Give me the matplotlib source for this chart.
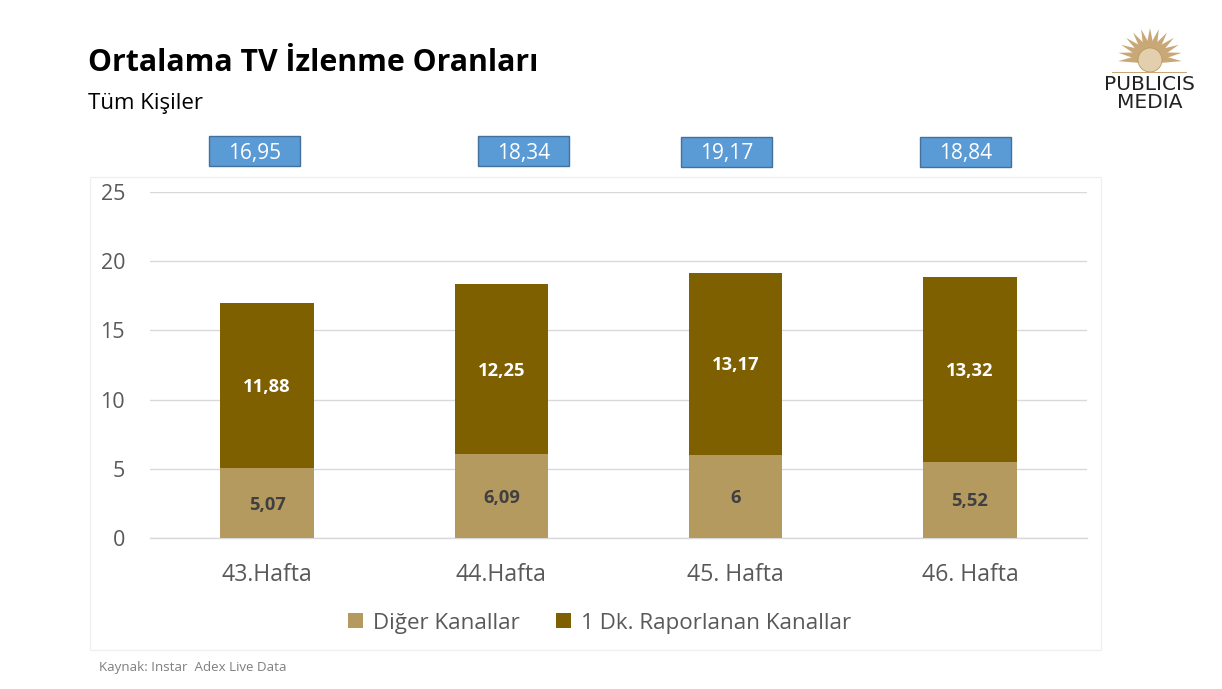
import numpy as np
import matplotlib
matplotlib.use("Agg")
import matplotlib.pyplot as plt
from matplotlib.patches import Rectangle, Polygon, Circle

categories = ["43.Hafta", "44.Hafta", "45. Hafta", "46. Hafta"]
other_channels = [5.07, 6.09, 6.00, 5.52]
reported_channels = [11.88, 12.25, 13.17, 13.32]
other_labels = ["5,07", "6,09", "6", "5,52"]
reported_labels = ["11,88", "12,25", "13,17", "13,32"]
total_labels = ["16,95", "18,34", "19,17", "18,84"]
total_box_left = [209, 478, 681, 920]
total_box_top = [136, 136, 137, 137]
yticks = [0, 5, 10, 15, 20, 25]

W, H = 1222, 689
plt.rcParams['font.family'] = ['Open Sans', 'DejaVu Sans']
fig = plt.figure(figsize=(W / 100, H / 100), dpi=100, facecolor='white')


def px(x, y):
    return x / W, 1 - y / H


# chart frame
fig.add_artist(Rectangle(px(90, 649.5), 1010.5 / W, 473 / H, transform=fig.transFigure,
                         fc='white', ec='#F0F0F0', lw=1, zorder=-1))

ax = fig.add_axes([150 / W, 1 - 538 / H, 937 / W, 346 / H])
ax.set_xlim(-0.5, 3.5)
ax.set_ylim(0, 25)
ax.patch.set_alpha(0)
x = np.arange(len(categories))
TAN, BROWN = '#B59A5F', '#7F6000'
b1 = ax.bar(x, other_channels, width=0.40, color=TAN, label='Diğer Kanallar', zorder=3)
b2 = ax.bar(x, reported_channels, width=0.40, bottom=other_channels, color=BROWN,
            label='1 Dk. Raporlanan Kanallar', zorder=3)
label_offset = -0.12
for xi, v, lab in zip(x, other_channels, other_labels):
    ax.text(xi, v / 2 + label_offset, lab, ha='center', va='center', fontsize=13.2, fontweight='bold',
            color='#404040', zorder=4)
for xi, b, v, lab in zip(x, other_channels, reported_channels, reported_labels):
    ax.text(xi, b + v / 2 + label_offset, lab, ha='center', va='center', fontsize=13.2, fontweight='bold',
            color='white', zorder=4)

for s in ['top', 'right', 'left']:
    ax.spines[s].set_visible(False)
ax.spines['bottom'].set_color('#D9D9D9')
ax.spines['bottom'].set_linewidth(1)
ax.set_yticks(yticks)
ax.set_xticks(x)
ax.set_xticklabels(categories)
ax.tick_params(axis='y', length=0, colors='#595959', labelsize=15.5, pad=18)
ax.tick_params(axis='x', length=0, colors='#595959', labelsize=16.6, pad=18)
ax.grid(axis='y', color='#D9D9D9', lw=1, zorder=0)
ax.set_axisbelow(True)

fig.legend(handles=[b1, b2], loc='center', bbox_to_anchor=(599.5 / W, 1 - 623 / H), ncol=2, frameon=False,
           fontsize=16.1, labelcolor='#595959', handlelength=0.65, handleheight=0.65,
           handletextpad=0.45, columnspacing=1.65)

# titles
fig.text(88 / W, 1 - 63 / H, 'Ortalama TV İzlenme Oranları', fontsize=21.8, fontweight='bold',
         color='black', va='center', ha='left')
fig.text(88 / W, 1 - 103 / H, 'Tüm Kişiler', fontsize=16, color='black', va='center', ha='left')
fig.text(99 / W, 1 - 668 / H, 'Kaynak: Instar  Adex Live Data', fontsize=9.6, color='#7F7F7F',
         va='center', ha='left')

# total boxes
for left, top, lab in zip(total_box_left, total_box_top, total_labels):
    fig.add_artist(Rectangle(px(left, top + 30), 91 / W, 30 / H, transform=fig.transFigure,
                             fc='#5B9BD5', ec='#41719C', lw=1))
    fig.text((left + 45.5) / W, 1 - (top + 17) / H, lab, fontsize=15, color='white',
             ha='center', va='center')

# logo
logo = fig.add_axes([1090 / W, 1 - 112 / H, 120 / W, 85 / H])
logo.set_xlim(1090, 1210)
logo.set_ylim(112, 27)
logo.axis('off')
cx, cy = 1150, 58
for a in np.radians(np.arange(-96, 97, 16)):
    ca, sa = np.sin(a), -np.cos(a)
    tipx, tipy = cx + 32 * ca, cy + 30 * sa
    logo.add_patch(Polygon([(cx - 4 * sa + 10 * ca, cy + 4 * ca + 10 * sa),
                            (cx + 4 * sa + 10 * ca, cy - 4 * ca + 10 * sa), (tipx, tipy)],
                           fc='#C9A877', ec='none'))
logo.add_patch(Circle((cx, cy + 2), 12, fc='#E3CFAE', ec='#B59A5F', lw=0.6))
logo.add_patch(Rectangle((1112, 71.5), 75, 1.5, fc='#C9A877', ec='none'))
logo.text(1149.5, 84.5, 'PUBLICIS', fontsize=14.5, color='#222222', ha='center', va='center',
          family=['DejaVu Sans'])
logo.text(1149.5, 103, 'MEDIA', fontsize=14.5, color='#222222', ha='center', va='center',
          family=['DejaVu Sans'])

fig.savefig('out.png', dpi=100, facecolor='white')
